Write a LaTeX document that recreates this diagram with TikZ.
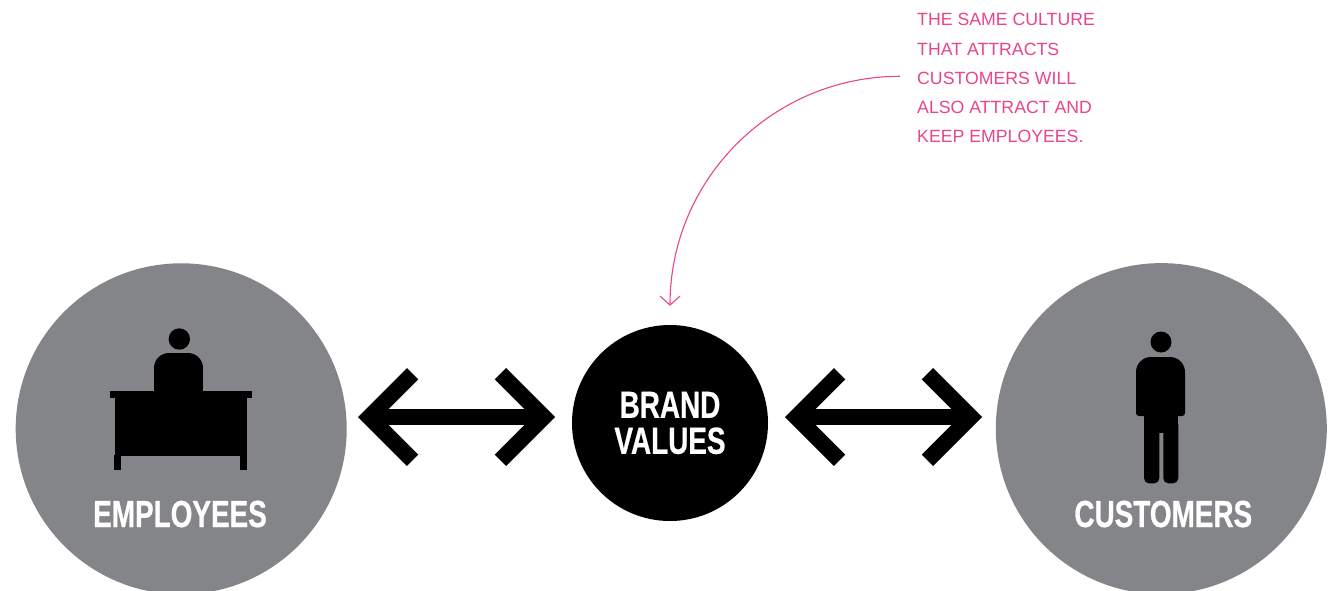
\documentclass[tikz,border=0pt]{standalone}
\usepackage{fontspec}
\setmainfont{Liberation Sans}
\newfontfamily\labfont[FakeStretch=0.74, BoldFeatures={FakeBold=0.6}]{Liberation Sans}
\usetikzlibrary{calc,arrows.meta}
\definecolor{circgrey}{HTML}{848589}
\definecolor{notepink}{HTML}{E8458C}
\newcommand{\dblarrow}[2]{%
  \draw[chev] ($(#1)+(54.6,-43.3)$) -- ($(#1)+(11.3,0)$) -- ($(#1)+(54.6,43.3)$);
  \draw[chev] ($(#2)+(-54.6,-43.3)$) -- ($(#2)+(-11.3,0)$) -- ($(#2)+(-54.6,43.3)$);
  \draw[chev] ($(#1)+(11.3,0)$) -- ($(#2)+(-11.3,0)$);}
\begin{document}
\begin{tikzpicture}[x=1pt,y=-1pt,
  bigcircle/.style={circle, fill=circgrey, minimum size=331pt, inner sep=0pt},
  corecircle/.style={circle, fill=black, minimum size=196pt, inner sep=0pt, text=white, align=center,
     font=\labfont\bfseries\fontsize{37.7}{36}\selectfont},
  biglabel/.style={text=white, anchor=base, inner sep=0pt, font=\labfont\bfseries\fontsize{37.7}{40}\selectfont},
  notetext/.style={text=notepink, anchor=north west, inner sep=0pt, align=left,
     font=\fontsize{17.7}{29.25}\selectfont},
  chev/.style={line width=16pt, line join=miter, line cap=butt},
  icon/.style={fill=black},
  pinkline/.style={draw=notepink, line width=1.1pt, -{Straight Barb[length=9pt,width=20pt,line width=1.1pt]}}
]
\fill[white] (0,0) rectangle (1332,590);
\useasboundingbox (0,0) rectangle (1332,590);

% circles
\node[bigcircle] (emp) at (181.2,428.8) {};
\node[bigcircle] (cust) at (1161.3,428.6) {};
\node[corecircle] (brand) at (670,423) {\raisebox{-2.5pt}{BRAND}\\\raisebox{-2.5pt}{VALUES}};

% labels
\node[biglabel] (emplabel) at (180,527) {EMPLOYEES};
\node[biglabel] (custlabel) at (1163.3,527) {CUSTOMERS};

% desk icon
\fill[icon] (179.3,339) circle[radius=10.7];
\fill[icon] (154,368) rectangle (203,392);
\fill[icon] (169,353) rectangle (188,368);
\fill[icon] (169,368) circle[radius=15];
\fill[icon] (188,368) circle[radius=15];
\fill[icon] (110,391) rectangle (252,398);
\fill[icon] (115,397) rectangle (247,456);
\fill[icon] (114,455) rectangle (121,470);
\fill[icon] (240,455) rectangle (247,470);

% person icon
\fill[icon] (1161,342) circle[radius=10.5];
\fill[icon] (1151,357) rectangle (1170,372);
\fill[icon] (1151,372) circle[radius=15];
\fill[icon] (1170,372) circle[radius=15];
\fill[icon, rounded corners=3] (1136,370) rectangle (1185,416);
\fill[icon] (1144,410) rectangle (1178,433);
\fill[icon, rounded corners=5] (1144,420) rectangle (1159.3,483.3);
\fill[icon, rounded corners=5] (1163.3,420) rectangle (1178.3,483.3);

% double arrows
\coordinate (a1) at (358,417);
\coordinate (a2) at (555,417);
\coordinate (b1) at (785,417);
\coordinate (b2) at (982,417);
\dblarrow{a1}{a2}
\dblarrow{b1}{b2}

% note
\node[notetext] (note) at (917,13.3) {THE SAME CULTURE\\THAT ATTRACTS\\CUSTOMERS WILL\\ALSO ATTRACT AND\\KEEP EMPLOYEES.};
\coordinate (cstart) at ($(note.west)+(-17,-2)$);
\coordinate (cend) at ($(brand.north)+(0,-19)$);
\draw[pinkline] (cstart) .. controls ($(cstart)+(-127,0)$) and ($(cend)+(0,-127)$) .. (cend);
\end{tikzpicture}
\end{document}
